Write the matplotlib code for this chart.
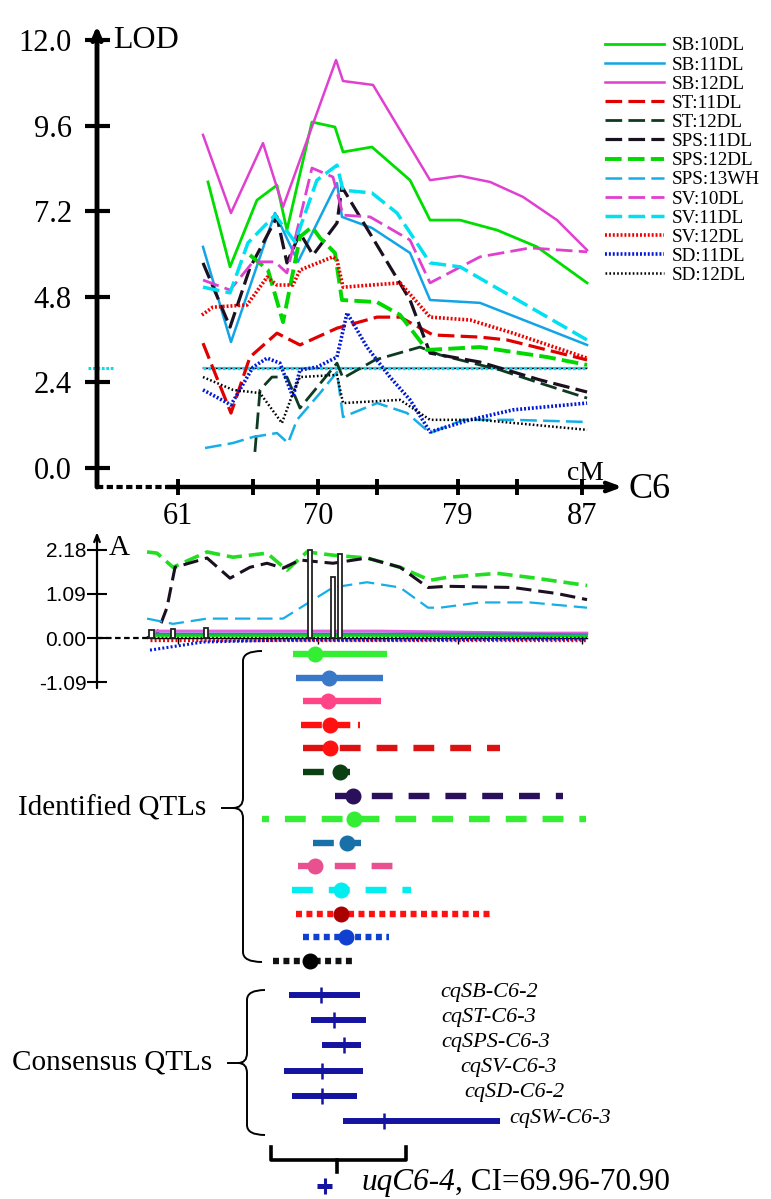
import numpy as np
import matplotlib
matplotlib.use('Agg')
import matplotlib.pyplot as plt
from matplotlib.path import Path
from matplotlib.patches import PathPatch

plt.rcParams['font.family'] = ['Liberation Serif', 'DejaVu Serif']
plt.rcParams['lines.scale_dashes'] = False

W, H = 771, 1199
XLIM = (55.79, 89.44)

# %% LOD profiles on C6 (cM, LOD)
sb10_cm = [62.93, 64.35, 66.08, 67.37, 68.01, 69.62, 71.10, 71.62, 73.48, 75.93, 77.22, 79.15, 81.53, 84.10, 87.32]
sb10_lod = [8.02, 5.64, 7.51, 7.93, 6.67, 9.70, 9.56, 8.86, 9.00, 8.07, 6.95, 6.95, 6.67, 6.20, 5.19]
sb11_cm = [62.61, 64.41, 67.24, 68.72, 71.23, 71.55, 73.48, 75.93, 77.22, 80.43, 87.32]
sb11_lod = [6.20, 3.53, 7.15, 5.78, 7.99, 7.04, 6.73, 6.03, 4.71, 4.63, 3.45]
sb12_cm = [62.61, 64.41, 66.47, 67.76, 71.17, 71.62, 73.55, 77.22, 79.15, 81.08, 83.20, 85.39, 87.32]
sb12_lod = [9.34, 7.15, 9.11, 7.32, 11.44, 10.85, 10.74, 8.07, 8.19, 8.02, 7.60, 6.95, 6.11]
st11_cm = [62.61, 64.41, 65.63, 67.37, 68.85, 71.23, 73.81, 75.29, 77.41, 80.43, 82.17, 87.32]
st11_lod = [3.50, 1.54, 3.11, 3.78, 3.45, 3.92, 4.23, 4.23, 3.73, 3.67, 3.59, 3.03]
st12_cm = [65.95, 66.28, 67.05, 68.01, 68.85, 71.23, 71.62, 73.68, 76.57, 77.86, 81.72, 84.29, 87.32]
st12_lod = [0.45, 2.19, 2.55, 2.55, 1.68, 2.94, 2.52, 3.03, 3.39, 3.17, 2.75, 2.38, 1.96]
sps11_cm = [62.61, 64.35, 65.63, 67.37, 68.01, 68.85, 69.69, 71.23, 71.55, 75.93, 77.22, 80.43, 84.29, 87.32]
sps11_lod = [5.75, 3.95, 5.61, 7.04, 5.75, 6.59, 5.97, 6.87, 7.88, 4.71, 3.22, 2.97, 2.47, 2.13]
sps12_cm = [65.63, 66.79, 67.76, 68.85, 69.62, 70.14, 71.10, 71.55, 73.81, 75.29, 77.02, 80.43, 84.75, 87.32]
sps12_lod = [5.97, 5.55, 4.09, 6.48, 6.76, 6.45, 6.03, 4.71, 4.65, 4.29, 3.31, 3.39, 3.11, 2.89]
sps13_cm = [62.74, 64.54, 65.83, 67.37, 68.08, 68.66, 70.14, 71.23, 71.62, 73.81, 75.74, 77.22, 79.34, 82.56, 87.32]
sps13_lod = [0.56, 0.70, 0.87, 0.98, 0.70, 1.35, 2.10, 2.69, 1.43, 1.82, 1.54, 0.98, 1.35, 1.35, 1.29]
sv10_cm = [62.61, 64.35, 65.83, 67.24, 68.01, 69.62, 70.97, 71.62, 73.36, 75.93, 77.22, 80.43, 83.65, 87.32]
sv10_lod = [5.27, 4.99, 5.78, 5.78, 5.47, 8.41, 8.16, 7.09, 7.04, 6.39, 5.19, 5.92, 6.17, 6.06]
sv11_cm = [62.61, 64.35, 65.50, 67.24, 68.53, 69.94, 71.23, 71.62, 73.48, 75.09, 77.22, 79.15, 87.32]
sv11_lod = [5.07, 4.91, 6.31, 7.09, 6.34, 8.07, 8.49, 7.79, 7.71, 7.15, 5.75, 5.64, 3.59]
sv12_cm = [62.54, 63.25, 65.44, 66.73, 67.37, 68.40, 68.85, 70.97, 71.23, 71.62, 75.29, 77.22, 79.79, 82.56, 87.32]
sv12_lod = [4.29, 4.51, 4.57, 5.35, 5.13, 5.13, 5.55, 5.92, 5.83, 5.07, 5.19, 4.23, 4.15, 3.78, 3.08]
sd11_cm = [62.61, 64.41, 65.83, 66.73, 67.56, 68.40, 68.85, 69.94, 71.23, 71.88, 73.16, 74.64, 75.93, 77.22, 79.79, 82.56, 87.32]
sd11_lod = [2.19, 1.77, 2.83, 3.08, 2.94, 1.99, 2.75, 2.83, 3.11, 4.35, 3.39, 2.55, 1.91, 1.01, 1.35, 1.63, 1.82]
sd12_cm = [62.61, 64.54, 66.28, 67.69, 68.40, 68.85, 71.23, 71.62, 75.29, 77.22, 80.43, 87.32]
sd12_lod = [2.55, 2.19, 2.10, 1.26, 2.10, 2.55, 2.61, 1.82, 1.91, 1.35, 1.35, 1.07]

lod_threshold = 2.8
thr_span = (62.6, 87.3)

lod_ticks = [0.0, 2.4, 4.8, 7.2, 9.6, 12.0]
cm_ticks = [61, 70, 79, 87]
cm_minor = [65.8, 73.8, 82.8]

# %% additive effects (cM, A)
add_sps12_cm = [59.01, 59.65, 60.68, 62.87, 64.54, 66.73, 68.01, 69.30, 70.97, 73.16, 75.29, 77.22, 78.31, 81.53, 83.65, 87.32]
add_sps12 = [2.13, 2.10, 1.75, 2.13, 2.00, 2.10, 1.68, 2.13, 2.05, 1.98, 1.75, 1.43, 1.50, 1.60, 1.50, 1.30]
add_sps11_cm = [59.01, 59.65, 60.29, 60.81, 62.87, 64.35, 65.63, 66.73, 67.76, 68.85, 70.97, 73.16, 75.29, 77.09, 78.31, 82.56, 85.39, 87.32]
add_sps11 = [0.00, 0.10, 0.75, 1.75, 1.98, 1.48, 1.75, 1.85, 1.73, 1.93, 1.85, 1.98, 1.75, 1.25, 1.28, 1.25, 1.10, 0.95]
add_sps13_cm = [59.01, 60.68, 62.87, 66.73, 67.76, 69.30, 70.97, 73.16, 75.29, 77.09, 77.86, 80.43, 83.65, 87.32]
add_sps13 = [0.48, 0.35, 0.48, 0.48, 0.48, 0.85, 1.25, 1.38, 1.25, 0.75, 0.75, 0.88, 0.88, 0.75]
add0_cm = [59.2, 62.6, 68.0, 74.0, 83.6, 87.3]
add_sb12 = [0.17, 0.17, 0.17, 0.17, 0.12, 0.12]
add_sb11 = [0.10, 0.10, 0.10, 0.10, 0.10, 0.08]
add_sb10 = [0.06, 0.06, 0.06, 0.06, 0.05, 0.05]
add_sv12 = [-0.05, -0.05, -0.05, -0.05, -0.05, -0.05]
add_sd11 = [-0.30, -0.10, -0.05, -0.05, -0.03, -0.03]
add_sd12 = [0.00, 0.00, 0.00, 0.00, 0.00, 0.00]
bar_cm = [59.3, 60.68, 62.8, 69.49, 70.97, 71.42]
bar_a = [0.20, 0.22, 0.24, 2.18, 1.50, 2.08]
add_ticks = [2.18, 1.09, 0.00, -1.09]

# %% QTL intervals
id_lo = [68.40, 68.59, 69.04, 68.92, 69.04, 69.04, 71.10, 66.41, 69.69, 68.72, 68.34, 68.59, 69.04, 67.11]
id_hi = [74.45, 74.19, 74.06, 72.71, 81.72, 72.07, 85.77, 87.25, 72.78, 74.84, 76.00, 81.27, 74.58, 72.20]
id_peak = [69.82, 70.72, 70.65, 70.78, 70.78, 71.42, 72.26, 72.33, 71.87, 69.82, 71.49, 71.49, 71.81, 69.49]
id_color = ['#33ee33', '#3a78c8', '#ff4488', '#ff1111', '#dd1111', '#0a4012', '#2a0f5a',
            '#33ee33', '#1870a8', '#e85090', '#00eef0', '#ff1111', '#1040d0', '#111111']
id_dot = ['#33ee33', '#3a78c8', '#ff4488', '#ff1111', '#ff1111', '#0a4012', '#2a0f5a',
          '#33ee33', '#1870a8', '#e85090', '#00eef0', '#aa0000', '#1040d0', '#000000']
id_ls = ['-', '-', '-', (0, (15, 5.5)), (0, (15, 11.5)), (0, (15, 9.5)), (0, (15, 11.5)),
         (10, (15, 11.5)), (0, (15, 6.5)), (0, (15, 11.5)), (0, (15, 11.5)),
         (0, (4.3, 3.2)), (0, (4.3, 3.2)), (0, (4.3, 3.2))]

cons_names = ['cqSB-C6-2', 'cqST-C6-3', 'cqSPS-C6-3', 'cqSV-C6-3', 'cqSD-C6-2', 'cqSW-C6-3']
cons_lo = [68.14, 69.56, 70.27, 67.82, 68.34, 71.62]
cons_hi = [72.71, 73.10, 72.78, 72.90, 72.52, 81.72]
cons_peak = [70.20, 71.04, 71.68, 70.27, 70.27, 74.26]
cons_label_x = [440, 441, 441, 460, 464, 509]
uq_ci = (69.96, 70.90)

NAVY = '#1414a0'


def px_axes(fig, x0, x1, y0, y1):
    return fig.add_axes([x0 / W, 1 - y1 / H, (x1 - x0) / W, (y1 - y0) / H])


fig = plt.figure(figsize=(W / 100, H / 100), dpi=100)

# %% LOD panel
ax = px_axes(fig, 97, 620, 40, 487)
ax.patch.set_visible(False)
ax.set_xlim(*XLIM)
ax.set_ylim(-0.533, 12.0)
for s in ax.spines.values():
    s.set_visible(False)

dsh = (0, (12, 4.5))
dot = (0, (1.4, 1.4))
lod_series = [
    ('SB:10DL', sb10_cm, sb10_lod, '#00dd00', '-', 2.0),
    ('SB:11DL', sb11_cm, sb11_lod, '#12a4e6', '-', 1.8),
    ('SB:12DL', sb12_cm, sb12_lod, '#e040d0', '-', 1.8),
    ('ST:11DL', st11_cm, st11_lod, '#e00000', dsh, 2.3),
    ('ST:12DL', st12_cm, st12_lod, '#0f3a22', dsh, 2.0),
    ('SPS:11DL', sps11_cm, sps11_lod, '#1a1020', dsh, 2.3),
    ('SPS:12DL', sps12_cm, sps12_lod, '#00d800', dsh, 2.8),
    ('SPS:13WH', sps13_cm, sps13_lod, '#16aee6', dsh, 1.8),
    ('SV:10DL', sv10_cm, sv10_lod, '#e040d0', dsh, 2.0),
    ('SV:11DL', sv11_cm, sv11_lod, '#00e0f0', dsh, 2.5),
    ('SV:12DL', sv12_cm, sv12_lod, '#ee0000', dot, 2.6),
    ('SD:11DL', sd11_cm, sd11_lod, '#0018d8', dot, 2.6),
    ('SD:12DL', sd12_cm, sd12_lod, '#000000', (0, (1.2, 1.6)), 1.8),
]
handles = []
for name, xs, ys, c, ls, lw in lod_series:
    h, = ax.plot(xs, ys, color=c, ls=ls, lw=lw, label=name, dash_capstyle='butt')
    handles.append(h)

# threshold
ax.plot(thr_span, [lod_threshold] * 2, color='#e060e0', lw=1.2, zorder=1)
ax.plot(thr_span, [lod_threshold] * 2, color='#00e0f0', lw=2.4, ls=(0, (2, 1.5)), zorder=1)
ax.plot(thr_span, [lod_threshold] * 2, color='#000000', lw=1.0, ls=(1.5, (1.2, 2.3)), zorder=1)
ax.plot([55.2, 56.8], [lod_threshold] * 2, color='#00e0f0', lw=2.2, ls=(0, (2, 1.2)), clip_on=False)

ax.set_yticks(lod_ticks)
ax.set_yticklabels(['%.1f' % v for v in lod_ticks])
ax.set_xticks(cm_ticks)
ax.set_xticks(cm_minor, minor=True)
ax.tick_params(axis='y', direction='inout', length=18, width=3, pad=9, labelsize=22)
ax.tick_params(axis='x', which='both', direction='inout', length=11, width=2.8, pad=5, labelsize=22)

ax.annotate('', xy=(XLIM[0], 12.4), xytext=(XLIM[0], -0.533), annotation_clip=False,
            arrowprops=dict(arrowstyle='->,head_length=0.7,head_width=0.3', lw=3.5, color='black',
                            shrinkA=0, shrinkB=0))
ax.annotate('', xy=(89.6, -0.533), xytext=(60.3, -0.533), annotation_clip=False,
            arrowprops=dict(arrowstyle='->,head_length=0.8,head_width=0.3', lw=3.2, color='black',
                            shrinkA=0, shrinkB=0))
ax.plot([XLIM[0], 60.3], [-0.533] * 2, color='black', lw=3, ls=(0, (4.5, 2.5)), clip_on=False)

ax.legend(handles=handles, loc='upper left', bbox_to_anchor=(605 / W, 1 - 37 / H),
          bbox_transform=fig.transFigure, frameon=False, fontsize=13.8, handlelength=3.1,
          handletextpad=0.4, labelspacing=0.09, borderpad=0, borderaxespad=0)

# %% additive effect panel
ax2 = px_axes(fig, 97, 620, 530, 690)
ax2.patch.set_visible(False)
ax2.set_xlim(*XLIM)
ax2.set_ylim(-1.287, 2.673)
for k in ['top', 'right', 'left']:
    ax2.spines[k].set_visible(False)
ax2.spines['bottom'].set_position(('data', 0))
ax2.spines['bottom'].set_bounds(59.2, 87.3)
ax2.spines['bottom'].set_linewidth(1)
ax2.set_xticks(cm_ticks)
ax2.set_xticklabels([])
ax2.tick_params(axis='x', direction='out', length=4, width=1)
ax2.set_yticks(add_ticks)
ax2.set_yticklabels(['%.2f' % v for v in add_ticks], family=['Liberation Sans', 'DejaVu Sans'])
ax2.tick_params(axis='y', direction='inout', length=14, width=1.5, pad=0.5, labelsize=15)

ax2.bar(bar_cm, bar_a, width=0.28, color='white', edgecolor='#222222', linewidth=1.3, zorder=4)
ax2.plot(add0_cm, add_sb12, color='#e060e0', lw=2.2, zorder=3)
ax2.plot(add0_cm, add_sb11, color='#3a78c8', lw=1.8, zorder=3)
ax2.plot(add0_cm, add_sb10, color='#00dd00', lw=1.8, zorder=3)
ax2.plot(add0_cm, add_sd12, color='black', lw=1.6, ls=(0, (1.2, 1.6)), zorder=3)
ax2.plot(add0_cm, add_sv12, color='#ee0000', lw=2.4, ls=(0, (1.4, 1.6)), zorder=3)
ax2.plot(add0_cm, add_sd11, color='#0018d8', lw=2.2, ls=(0, (1.4, 1.6)), zorder=3)
ax2.plot(add_sps12_cm, add_sps12, color='#22dd22', lw=2.6, ls=(0, (11, 5)))
ax2.plot(add_sps11_cm, add_sps11, color='#1a1020', lw=2.2, ls=(0, (11, 5)))
ax2.plot(add_sps13_cm, add_sps13, color='#16aee6', lw=1.6, ls=(0, (11, 5)))
ax2.plot([XLIM[0], 59.2], [0, 0], color='black', lw=1.6, ls=(0, (4, 2.5)))

ax2.annotate('', xy=(XLIM[0], 2.62), xytext=(XLIM[0], -1.24), annotation_clip=False,
             arrowprops=dict(arrowstyle='->,head_length=0.5,head_width=0.2', lw=1.6, color='black',
                             shrinkA=0, shrinkB=0))

# %% QTL intervals panel (y in pixel rows)
ax3 = px_axes(fig, 97, 620, 640, 1199)
ax3.patch.set_visible(False)
ax3.set_xlim(*XLIM)
ax3.set_ylim(1199, 640)
ax3.axis('off')

id_y = 654 + 23.6 * np.arange(len(id_lo))
for i in range(len(id_lo)):
    ax3.plot([id_lo[i], id_hi[i]], [id_y[i]] * 2, color=id_color[i], lw=4.6, ls=id_ls[i],
             solid_capstyle='butt', dash_capstyle='butt')
    ax3.plot(id_peak[i], id_y[i], 'o', ms=10.5, color=id_dot[i], mec=id_dot[i])

cons_y = 995 + 25.2 * np.arange(len(cons_lo))
for j in range(len(cons_lo)):
    ax3.plot([cons_lo[j], cons_hi[j]], [cons_y[j]] * 2, color=NAVY, lw=4.3, solid_capstyle='butt')
    ax3.plot(cons_peak[j], cons_y[j], marker='|', ms=11, mew=1.8, color=NAVY)

uq_y = 1186
ax3.plot(uq_ci, [uq_y] * 2, color=NAVY, lw=3.6, solid_capstyle='butt')
ax3.plot(np.mean(uq_ci), uq_y, marker='|', ms=12, mew=2.2, color=NAVY)

# %% overlay: labels and braces in pixel coordinates
ov = fig.add_axes([0, 0, 1, 1])
ov.patch.set_visible(False)
ov.set_xlim(0, W)
ov.set_ylim(H, 0)
ov.axis('off')

ov.text(113, 41, 'LOD', fontsize=23, ha='left', va='center')
ov.text(585, 474, 'cM', fontsize=20, ha='center', va='center')
ov.text(629, 489, 'C6', fontsize=26, ha='left', va='center')
ov.text(109, 548, 'A', fontsize=21, ha='left', va='center')
ov.text(18, 808, 'Identified QTLs', fontsize=21, ha='left', va='center')
ov.text(12, 1063, 'Consensus QTLs', fontsize=21, ha='left', va='center')
for j, nm in enumerate(cons_names):
    ov.text(cons_label_x[j], cons_y[j] - 3, nm, fontsize=16, style='italic', ha='left', va='center')

t1 = ov.text(361, 1197, 'uqC6-4', fontsize=22.5, style='italic', ha='left', va='bottom')
ov.annotate(', CI=%.2f-%.2f' % uq_ci, xy=(1, 0), xycoords=t1, fontsize=22.5, ha='left', va='bottom')


def brace(a, x_end, x_v, x_tip, y_top, y_mid, y_bot, x_dash, r=10):
    verts = [(x_end, y_top), (x_v, y_top), (x_v, y_top + r),
             (x_v, y_mid - r), (x_v, y_mid), (x_tip, y_mid),
             (x_v, y_mid), (x_v, y_mid + r),
             (x_v, y_bot - r), (x_v, y_bot), (x_end, y_bot)]
    codes = [Path.MOVETO, Path.CURVE3, Path.CURVE3, Path.LINETO, Path.CURVE3, Path.CURVE3,
             Path.CURVE3, Path.CURVE3, Path.LINETO, Path.CURVE3, Path.CURVE3]
    a.add_patch(PathPatch(Path(verts, codes), fill=False, lw=1.4, color='black'))
    a.plot([x_dash, x_tip], [y_mid, y_mid], color='black', lw=1.4)


brace(ov, 262, 243, 233, 651, 808, 962, 222)
brace(ov, 265, 247, 238, 990, 1063, 1135, 228)

ov.plot([271, 271, 406, 406], [1147, 1160, 1160, 1147], color='black', lw=2.6,
        solid_joinstyle='round')
ov.plot([337, 337], [1160, 1172], color='black', lw=2.6)

fig.savefig('out.png', dpi=100)
